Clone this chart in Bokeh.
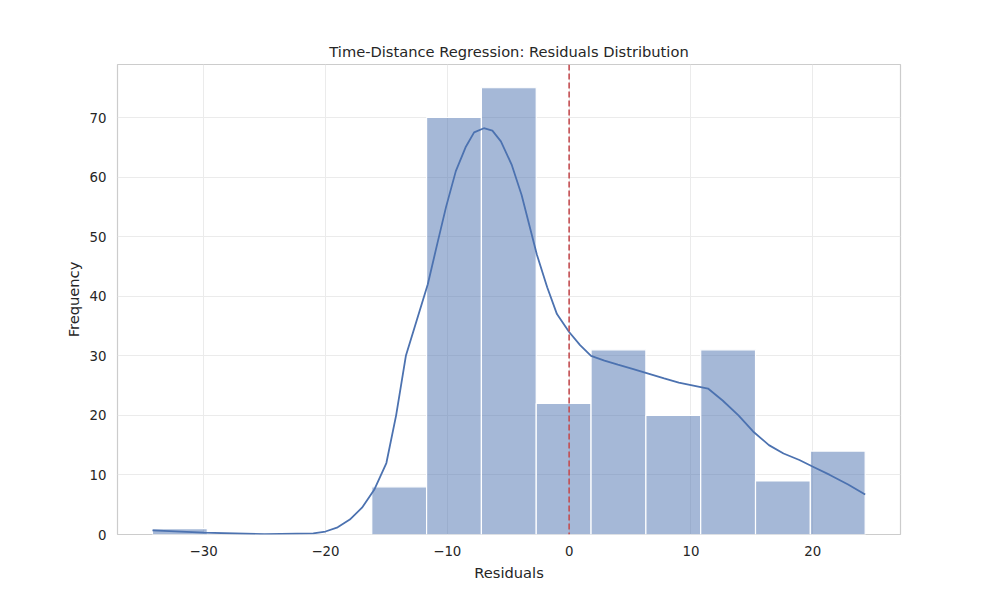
from bokeh.plotting import figure
from bokeh.embed import file_html
from bokeh.resources import INLINE
from bokeh.models import Range1d, Span, FixedTicker

bin_start = -34.2
bin_width = 4.5
counts = [1, 0, 0, 0, 8, 70, 75, 22, 31, 20, 31, 9, 14]
kde_x = [-34.2, -30, -25, -21, -20, -19, -18, -17, -16, -15, -14.2, -13.4, -12.5, -11.6, -10.8, -10.1, -9.3,
         -8.5, -7.8, -7, -6.3, -5.6, -4.7, -3.9, -2.65, -1.8, -1, 0, 0.9, 1.8, 2.9, 4, 5.2, 6.5,
         7.8, 9, 10.2, 11.4, 12.6, 13.9, 15.1, 16.4, 17.6, 18.9, 20.1, 21.4, 22.9, 24.3]
kde_y = [0.7, 0.3, 0.05, 0.2, 0.5, 1.2, 2.5, 4.5, 7.5, 12, 20, 30, 36, 42, 49, 55, 61,
         65, 67.5, 68.2, 67.8, 66, 62, 57, 47, 41.5, 37, 34, 31.8, 30, 29.2, 28.5, 27.8, 27,
         26.2, 25.5, 25, 24.5, 22.5, 20, 17.3, 15, 13.6, 12.5, 11.3, 10, 8.4, 6.7]

lefts = [bin_start + i * bin_width for i in range(len(counts))]
rights = [l + bin_width for l in lefts]

p = figure(width=984, height=584, output_backend="svg", toolbar_location=None,
           x_range=Range1d(-37.07, 27.2), y_range=Range1d(0, 78.9),
           title="Time-Distance Regression: Residuals Distribution",
           min_border_left=117, min_border_right=84, min_border_top=64, min_border_bottom=50)
p.title.align = "center"
p.title.text_font = "DejaVu Sans"
p.title.text_font_style = "normal"
p.title.text_font_size = "11pt"
p.title.text_color = "#262626"
p.outline_line_color = "#cccccc"
p.outline_line_width = 1.2
p.background_fill_color = "white"

p.quad(left=lefts, right=rights, bottom=0, top=counts, fill_color="#4c72b0",
       fill_alpha=0.5, line_color="white", line_width=1.2)
p.line(kde_x, kde_y, line_color="#4c72b0", line_width=1.8)
p.add_layout(Span(location=0, dimension="height", line_color="#c44e52",
                  line_dash="6 3", line_width=1.6))

p.xaxis.ticker = FixedTicker(ticks=[-30, -20, -10, 0, 10, 20])
p.yaxis.ticker = FixedTicker(ticks=[0, 10, 20, 30, 40, 50, 60, 70])
p.xaxis.axis_label = "Residuals"
p.yaxis.axis_label = "Frequency"
for ax in (p.xaxis, p.yaxis):
    ax.axis_line_color = None
    ax.major_tick_line_color = None
    ax.minor_tick_line_color = None
    ax.major_label_text_font = "DejaVu Sans"
    ax.major_label_text_font_size = "10pt"
    ax.major_label_text_color = "#262626"
    ax.axis_label_text_font = "DejaVu Sans"
    ax.axis_label_text_font_size = "11pt"
    ax.axis_label_text_font_style = "normal"
    ax.axis_label_text_color = "#262626"
p.xgrid.grid_line_color = "#ebebeb"
p.ygrid.grid_line_color = "#ebebeb"

open("out.html", "w").write(file_html(p, INLINE))
